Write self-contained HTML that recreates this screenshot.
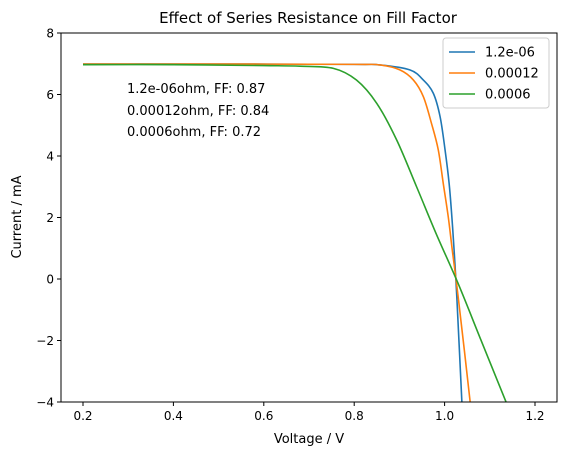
<!DOCTYPE html>
<html><head><meta charset="utf-8"><style>
body{margin:0;background:#fff}
svg text{font-family:"DejaVu Sans","Liberation Sans",sans-serif;fill:#000}
</style></head><body>
<svg id="chart" width="565" height="455">
<defs><clipPath id="clip"><rect x="61" y="33" width="496" height="369"/></clipPath></defs>
<text x="308" y="23" text-anchor="middle" font-size="15">Effect of Series Resistance on Fill Factor</text>
<g id="axes"></g>
<g id="series" clip-path="url(#clip)"></g>
<rect x="61" y="33" width="496" height="369" fill="none" stroke="#000" stroke-width="1"/>
<g font-size="13">
<text x="127" y="93">1.2e-06ohm, FF: 0.87</text>
<text x="127" y="115">0.00012ohm, FF: 0.84</text>
<text x="127" y="136">0.0006ohm, FF: 0.72</text>
</g>
<g id="legend">
<rect x="443" y="38" width="106" height="70" rx="3" fill="#fff" stroke="#ccc" fill-opacity="0.8"/>
</g>
<text x="309" y="443" text-anchor="middle" font-size="13">Voltage / V</text>
<text transform="translate(21,217) rotate(-90)" text-anchor="middle" font-size="13">Current / mA</text>
</svg>
<script>
const seriesNames=["1.2e-06","0.00012","0.0006"];
const seriesColors=["#1f77b4","#ff7f0e","#2ca02c"];
const blueV=[0.2,0.5,0.8,0.857,0.923,0.953,0.975,0.990,1.001,1.010,1.016,1.021,1.027,1.038,1.045];
const blueI=[6.99,6.99,6.98,6.96,6.80,6.47,6.04,5.28,4.20,3.11,2.03,0.94,-0.58,-3.93,-6];
const orangeV=[0.2,0.5,0.8,0.857,0.901,0.931,0.953,0.971,0.986,0.997,1.008,1.017,1.030,1.056,1.07];
const orangeI=[6.99,6.99,6.98,6.96,6.80,6.47,5.93,5.06,4.20,3.11,2.03,0.94,-0.58,-3.93,-6];
const greenV=[0.2,0.4,0.6,0.68,0.754,0.805,0.85,0.894,0.938,0.982,1.03,1.08,1.134,1.16];
const greenI=[6.97,6.97,6.94,6.92,6.85,6.47,5.71,4.52,3.0,1.45,-0.15,-1.97,-3.93,-4.9];
const xTicks=[0.2,0.4,0.6,0.8,1.0,1.2];
const xTickLabels=["0.2","0.4","0.6","0.8","1.0","1.2"];
const yTicks=[-4,-2,0,2,4,6,8];
const yTickLabels=["\u22124","\u22122","0","2","4","6","8"];
const NS="http://www.w3.org/2000/svg";
function sx(v){return 83+(v-0.2)*452;}
function sy(i){return 279-i*30.75;}
function mk(tag,attrs,parent){const e=document.createElementNS(NS,tag);for(const k in attrs)e.setAttribute(k,attrs[k]);parent.appendChild(e);return e;}
const axes=document.getElementById('axes');
xTicks.forEach((t,k)=>{
  const l=mk('line',{x1:sx(t),x2:sx(t),y1:402,y2:406,stroke:'#000'},axes);
  
  
  const tx=mk('text',{x:sx(t),y:420,'text-anchor':'middle','font-size':'12'},axes);
  tx.textContent=xTickLabels[k];
  
  
});
yTicks.forEach((t,k)=>{
  const l=mk('line',{x1:57,x2:61,y1:sy(t),y2:sy(t),stroke:'#000'},axes);
  
  
  const tx=mk('text',{x:54,y:sy(t)+4.5,'text-anchor':'end','font-size':'12'},axes);
  tx.textContent=yTickLabels[k];
  
  
});
function smooth(V,I){
  const p=V.map((v,k)=>[sx(v),sy(I[k])]);
  let d='M'+p[0][0]+','+p[0][1];
  for(let k=0;k<p.length-1;k++){
    const p0=p[k-1]||p[k],p1=p[k],p2=p[k+1],p3=p[k+2]||p2;
    const c1=[p1[0]+(p2[0]-p0[0])/6,p1[1]+(p2[1]-p0[1])/6];
    const c2=[p2[0]-(p3[0]-p1[0])/6,p2[1]-(p3[1]-p1[1])/6];
    d+=' C'+c1+' '+c2+' '+p2;
  }
  return d;
}
const sg=document.getElementById('series');
[[blueV,blueI],[orangeV,orangeI],[greenV,greenI]].forEach((s,k)=>{
  const p=mk('path',{d:smooth(s[0],s[1]),fill:'none',stroke:seriesColors[k],'stroke-width':'1.6'},sg);
  
  
});
const lg=document.getElementById('legend');
seriesNames.forEach((n,k)=>{
  const y=52+k*21;
  const l=mk('line',{x1:449,x2:475,y1:y,y2:y,stroke:seriesColors[k],'stroke-width':'1.6'},lg);
  
  
  const t=mk('text',{x:485,y:y+4.5,'font-size':'13'},lg);
  t.textContent=n;
  
  
});
</script>
</body></html>
